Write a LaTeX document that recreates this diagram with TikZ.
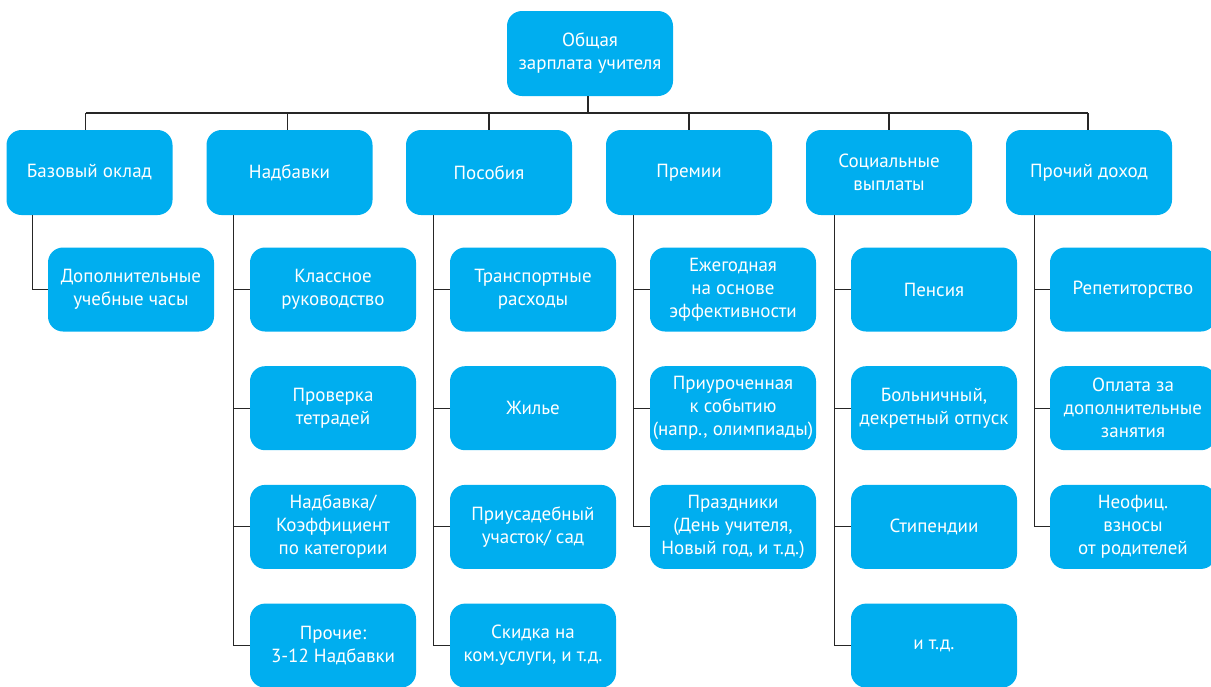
\documentclass[tikz,border=0pt]{standalone}
\usepackage{fontspec}
\setmainfont{PT Sans}
\begin{document}
\begin{tikzpicture}[x=1pt,y=-1pt,
  box/.style={draw=none,fill=boxblue,rounded corners=15pt,minimum width=166pt,minimum height=84pt,inner sep=0pt,align=center,text=white,font=\fontsize{19}{23}\selectfont},
  conn/.style={draw=black!85,line width=1.1pt}]
\definecolor{boxblue}{HTML}{00AEEF}
\useasboundingbox (0,0) rectangle (1211,686);
\clip (0,0) rectangle (1211,686);
% root
\node[box,minimum height=85pt] (root) at (590,53.5) {Общая\\зарплата учителя};
% level 1
\node[box,minimum height=85pt] (a) at (89.5,172.5) {Базовый оклад};
\node[box,minimum height=85pt] (b) at (289.5,172.5) {Надбавки};
\node[box,minimum height=85pt] (c) at (489,172.5) {Пособия};
\node[box,minimum height=85pt] (d) at (689,172.5) {Премии};
\node[box,minimum height=85pt] (e) at (889,172.5) {Социальные\\выплаты};
\node[box,minimum height=85pt] (f) at (1089,172.5) {Прочий доход};
% bus
\coordinate (bus) at (588,113);
\draw[conn] (root.south -| bus) -- (bus);
\foreach \n/\dx in {a/-4,b/-2,c/0,d/0,e/0,f/-1}{
  \draw[conn] ([xshift=\dx pt]\n.north) -- ([xshift=\dx pt]\n.north |- bus);
}
\draw[conn] ([xshift=-4pt]a.north |- bus) -- ([xshift=-1pt]f.north |- bus);
% children
\node[box] (a1) at (131,289.5) {Дополнительные\\учебные часы};

\node[box] (b1) at (333,289.5) {Классное\\руководство};
\node[box] (b2) at (333,408.2) {Проверка\\тетрадей};
\node[box] (b3) at (333,526.9) {Надбавка/\\Коэффициент\\по категории};
\node[box] (b4) at (333,645.6) {Прочие:\\3-12 Надбавки};

\node[box] (c1) at (533,289.5) {Транспортные\\расходы};
\node[box] (c2) at (533,408.2) {Жилье};
\node[box] (c3) at (533,526.9) {Приусадебный\\участок/ сад};
\node[box] (c4) at (533,645.6) {Скидка на\\ком.услуги, и т.д.};

\node[box] (d1) at (733,289.5) {Ежегодная\\на основе\\эффективности};
\node[box] (d2) at (733,408.2) {Приуроченная\\к событию\\(напр., олимпиады)};
\node[box] (d3) at (733,526.9) {Праздники\\(День учителя,\\Новый год, и т.д.)};

\node[box] (e1) at (934,289.5) {Пенсия};
\node[box] (e2) at (934,408.2) {Больничный,\\декретный отпуск};
\node[box] (e3) at (934,526.9) {Стипендии};
\node[box] (e4) at (934,645.6) {и т.д.};

\node[box] (f1) at (1133,289.5) {Репетиторство};
\node[box] (f2) at (1133,408.2) {Оплата за\\дополнительные\\занятия};
\node[box] (f3) at (1133,526.9) {Неофиц.\\взносы\\от родителей};
% child connectors
\draw[conn] ([xshift=26pt]a.south west) |- (a1.west);
\foreach \c in {b1,b2,b3,b4}{\draw[conn] ([xshift=27pt]b.south west) |- (\c.west);}
\foreach \c in {c1,c2,c3,c4}{\draw[conn] ([xshift=28pt]c.south west) |- (\c.west);}
\foreach \c in {d1,d2,d3}{\draw[conn] ([xshift=28pt]d.south west) |- (\c.west);}
\foreach \c in {e1,e2,e3,e4}{\draw[conn] ([xshift=29pt]e.south west) |- (\c.west);}
\foreach \c in {f1,f2,f3}{\draw[conn] ([xshift=29pt]f.south west) |- (\c.west);}
\end{tikzpicture}
\end{document}
